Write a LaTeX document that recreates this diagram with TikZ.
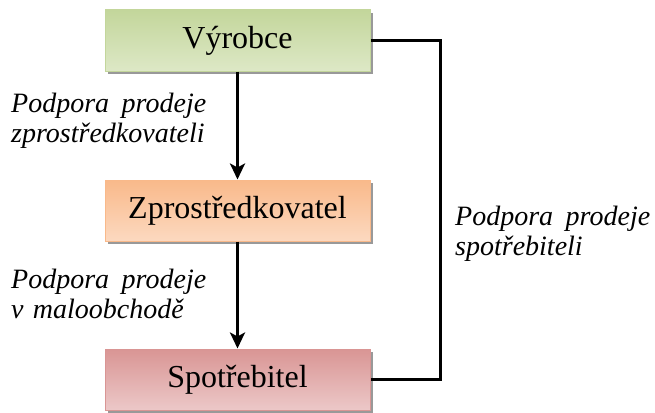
\documentclass[tikz,border=0pt]{standalone}
\usepackage{fontspec}
\setmainfont{Liberation Serif}
\newfontfamily\tnr{Liberation Serif}
\usetikzlibrary{positioning, arrows.meta, shadows}
\definecolor{VyrDark}{HTML}{C3D69B}
\definecolor{VyrMid}{HTML}{DDE8C6}
\definecolor{VyrLight}{HTML}{F0F5E6}
\definecolor{ZprDark}{HTML}{F9B98A}
\definecolor{ZprMid}{HTML}{FCD9C0}
\definecolor{ZprLight}{HTML}{FEEEE2}
\definecolor{SpoDark}{HTML}{D99594}
\definecolor{SpoMid}{HTML}{ECC8C8}
\definecolor{SpoLight}{HTML}{F6E6E6}

\begin{document}
\begin{tikzpicture}[x=1pt, y=-1pt,
  box/.style={draw=#1Dark, line width=1pt, top color=#1Dark, middle color=#1Light,
    bottom color=#1Mid,
    minimum width=265pt, minimum height=61pt, inner sep=0pt,
    font=\tnr\fontsize{32}{36}\selectfont,
    drop shadow={shadow xshift=3pt, shadow yshift=-3pt, fill=black!40, opacity=1}},
  arr/.style={-{Stealth[length=16pt, width=15pt, inset=4pt]}, line width=3pt},
  link/.style={line width=3pt},
  lbl/.style={anchor=north west, inner sep=0pt, text width=195pt, align=left,
    font=\tnr\fontsize{28}{30}\selectfont\itshape}
]
  \useasboundingbox (0,0) rectangle (655,412);

  % Boxes
  \node[box=Vyr] (vyr) at (237.5,40.5) {Výrobce};
  \node[box=Zpr, below=108pt of vyr] (zpr) {Zprostředkovatel};
  \node[box=Spo, below=107pt of zpr] (spo) {Spotřebitel};

  % Arrows
  \draw[arr] (vyr) -- (zpr);
  \draw[arr] (zpr) -- (spo);
  \draw[link] (vyr.east) -- ++(70,0) |- (spo.east);

  % Labels
  \node[lbl] (lblzpr) at (11,93) {Podpora\hfill prodeje\\zprostředkovateli};
  \node[lbl] (lblmal) at (11,269) {Podpora\hfill prodeje\\v maloobchodě};
  \node[lbl] (lblspo) at (455,206) {Podpora\hfill prodeje\\spotřebiteli};
\end{tikzpicture}
\end{document}
